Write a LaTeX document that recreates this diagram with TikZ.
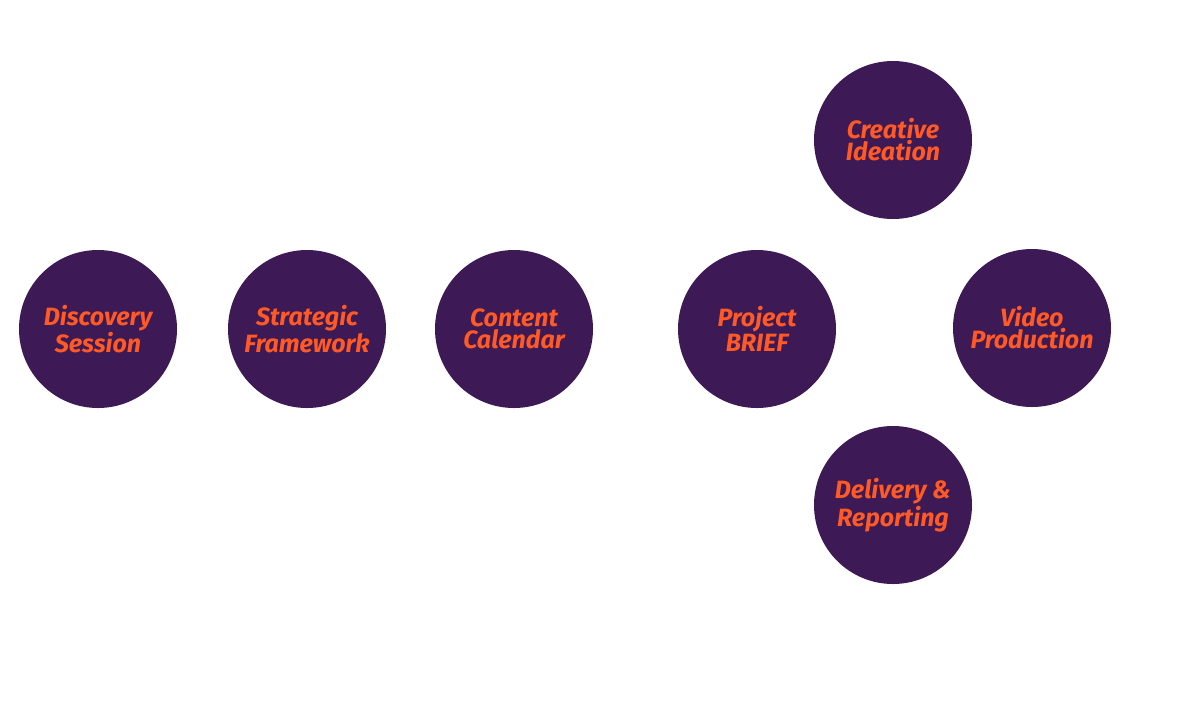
\documentclass[tikz,border=0pt]{standalone}
\usepackage{fontspec}
\setmainfont{Fira Sans}
\definecolor{circ}{HTML}{3D1955}
\definecolor{txt}{HTML}{FF5A26}
\begin{document}
\begin{tikzpicture}[x=0.5pt,y=-0.5pt,
  stage/.style={circle,fill=circ,minimum size=79pt,inner sep=0pt,text=txt,
    font=\fontsize{12.5}{11}\selectfont\bfseries\itshape,align=center}]
\useasboundingbox (0,0) rectangle (1200,720);
\node[stage] (a) at (98,329) {Discovery\\Session};
\node[stage] (b) at (307,329) {Strategic\\Framework};
\node[stage] (c) at (514,329) {Content\\Calendar};
\node[stage] (d) at (757,329) {Project\\BRIEF};
\node[stage] (e) at (893,140) {Creative\\Ideation};
\node[stage] (f) at (1032,328) {Video\\Production};
\node[stage] (g) at (893,505) {Delivery \&\\Reporting};
\end{tikzpicture}
\end{document}
